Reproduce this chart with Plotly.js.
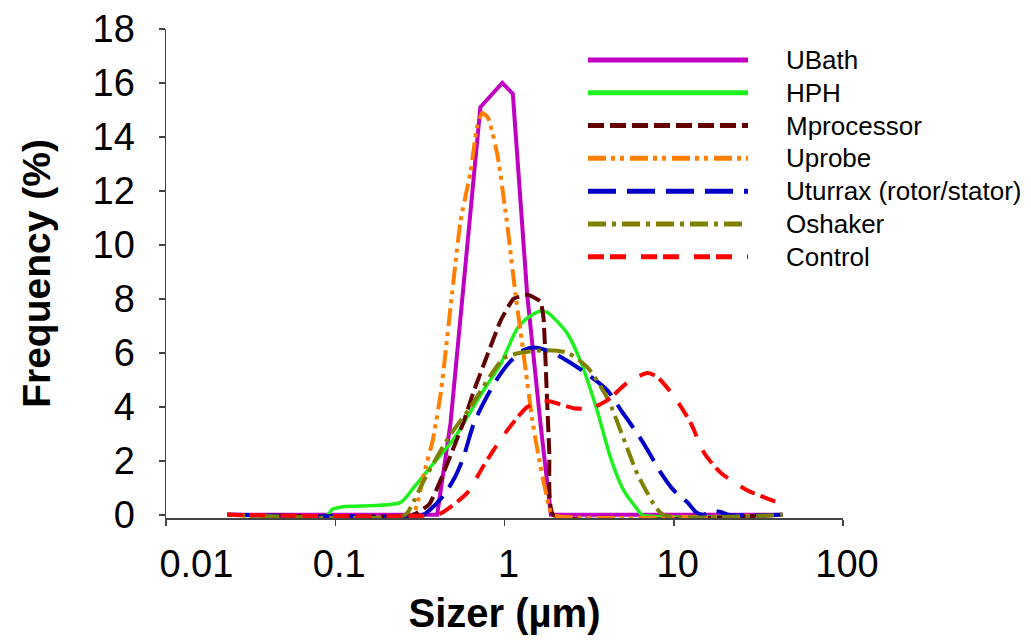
<!DOCTYPE html>
<html>
<head>
<meta charset="utf-8">
<script src="https://cdn.plot.ly/plotly-3.0.1.min.js"></script>
<style>
  html, body { margin: 0; padding: 0; background: #ffffff; }
  #chart { width: 1031px; height: 643px; }
</style>
</head>
<body>
<div id="chart"></div>
<script>
// ---------------- data ----------------
const seriesNames = ["UBath", "HPH", "Mprocessor", "Uprobe", "Uturrax (rotor/stator)", "Oshaker", "Control"];

const ubathSize = [0.023, 0.40, 0.48, 0.57, 0.72, 0.97, 1.12, 1.36, 1.63, 1.88, 44];
const ubathFreq = [0, 0, 3.4, 8.3, 15.1, 16.0, 15.6, 8.2, 3.4, 0, 0];

const hphSize = [0.023, 0.09, 0.096, 0.111, 0.242, 0.29, 0.38, 0.50, 0.60, 0.75, 0.95, 1.19, 1.37, 1.63, 1.79, 1.95, 2.36, 2.81, 3.55, 4.24, 5.06, 6.1, 6.5, 44];
const hphFreq = [0, 0, 0.2, 0.3, 0.45, 1.0, 1.9, 2.8, 3.6, 4.6, 5.6, 6.9, 7.3, 7.55, 7.5, 7.3, 6.7, 5.7, 3.8, 2.1, 0.9, 0.2, 0, 0];

const mprocSize = [0.023, 0.29, 0.36, 0.42, 0.48, 0.57, 0.66, 0.79, 0.95, 1.13, 1.37, 1.63, 1.70, 1.77, 1.84, 1.94, 44];
const mprocFreq = [0, 0, 0.4, 1.3, 2.2, 3.4, 4.6, 5.9, 7.2, 8.0, 8.15, 7.9, 7.3, 4.8, 2.3, 0, 0];

const uprobeSize = [0.023, 0.285, 0.305, 0.34, 0.375, 0.42, 0.49, 0.55, 0.63, 0.69, 0.74, 0.80, 0.91, 1.04, 1.16, 1.30, 1.46, 1.63, 1.82, 1.92, 44];
const uprobeFreq = [0, 0, 0.4, 1.7, 2.7, 4.5, 8.2, 10.9, 12.7, 14.4, 14.9, 14.7, 13.3, 10.7, 8.2, 5.9, 3.5, 1.8, 0.4, 0, 0];

const uturraxSize = [0.023, 0.33, 0.35, 0.435, 0.51, 0.57, 0.66, 0.79, 0.92, 1.09, 1.30, 1.48, 1.87, 2.36, 3.1, 4.07, 4.85, 6.1, 7.0, 8.4, 10.0, 12.1, 13.5, 15, 16.5, 19, 21, 44];
const uturraxFreq = [0, 0, 0.1, 0.7, 1.4, 2.1, 3.4, 4.4, 5.1, 5.7, 6.1, 6.2, 6.05, 5.7, 5.2, 4.6, 3.9, 3.0, 2.4, 1.55, 0.9, 0.45, 0.1, 0, 0.15, 0.1, 0, 0];

const oshakerSize = [0.023, 0.26, 0.28, 0.33, 0.46, 0.63, 0.99, 1.24, 1.80, 2.36, 3.1, 4.07, 5.0, 6.1, 7.0, 7.6, 8.7, 44];
const oshakerFreq = [0, 0, 0.3, 1.2, 2.8, 4.0, 5.8, 6.0, 6.1, 6.0, 5.45, 4.3, 2.9, 1.5, 0.8, 0.4, 0, 0];

const controlSize = [0.023, 0.40, 0.435, 0.60, 0.75, 0.95, 1.19, 1.37, 1.70, 1.87, 2.56, 3.23, 4.07, 5.34, 7.0, 8.0, 10.0, 12.6, 15.1, 19.0, 27.3, 37.5, 44.8];
const controlFreq = [0, 0, 0.1, 0.8, 1.8, 2.8, 3.6, 4.0, 4.2, 4.2, 3.95, 3.95, 4.25, 4.9, 5.25, 5.1, 4.4, 3.4, 2.3, 1.55, 0.9, 0.55, 0.35];

const xTickVals = [0.01, 0.1, 1, 10, 100];
const xTickText = ["0.01", "0.1", "1", "10", "100"];
const yTickVals = [0, 2, 4, 6, 8, 10, 12, 14, 16, 18];

// ---------------- styles ----------------
const styles = [
  {color: "#C000C0", width: 4,   dash: "solid",                    shape: "linear", smooth: 0},
  {color: "#1EF01E", width: 3.5, dash: "solid",                    shape: "spline", smooth: 0.7},
  {color: "#600000", width: 4,   dash: "16px,6px",                 shape: "spline", smooth: 0.4},
  {color: "#FF8000", width: 4,   dash: "18px,5px,4px,5px,4px,6px", shape: "spline", smooth: 0.5},
  {color: "#0000C8", width: 4,   dash: "28px,11px",                shape: "spline", smooth: 0.7},
  {color: "#808000", width: 4,   dash: "18px,6px,4px,6px",         shape: "spline", smooth: 0.7},
  {color: "#FF0000", width: 4,   dash: "16px,6px,16px,15px",       shape: "spline", smooth: 0.7}
];

const xs = [ubathSize, hphSize, mprocSize, uprobeSize, uturraxSize, oshakerSize, controlSize];
const ys = [ubathFreq, hphFreq, mprocFreq, uprobeFreq, uturraxFreq, oshakerFreq, controlFreq];

const traces = seriesNames.map((name, i) => {
  const line = {color: styles[i].color, width: styles[i].width, dash: styles[i].dash, shape: styles[i].shape};
  if (styles[i].shape === "spline") line.smoothing = styles[i].smooth;
  return {type: "scatter", mode: "lines", name: name, x: xs[i], y: ys[i], line: line, showlegend: false};
});

// ---------------- custom legend (long line samples like the original) ----------------
const plotL = 166, plotR = 843, plotT = 29, plotB = 518.2;
const W = 1031, H = 643;
const toPX = px => (px - plotL) / (plotR - plotL);
const toPY = py => (plotB - py) / (plotB - plotT);

const legendRow0 = 60, legendStep = 32.8;
const shapes = [];
const annotations = [];
seriesNames.forEach((name, i) => {
  const py = legendRow0 + i * legendStep;
  shapes.push({
    type: "line", xref: "paper", yref: "paper",
    x0: toPX(588), x1: toPX(748), y0: toPY(py), y1: toPY(py),
    line: {color: styles[i].color, width: 5, dash: styles[i].dash}
  });
  annotations.push({
    xref: "paper", yref: "paper", x: toPX(784), y: toPY(py),
    xanchor: "left", yanchor: "middle", showarrow: false,
    text: name, font: {family: "Liberation Sans, Arial, sans-serif", size: 26, color: "#000"}
  });
});

// first x label sits a little to the right in the original
const xTickTextShown = xTickText.map((t, i) => (i === 0 ? "&nbsp;&nbsp;&nbsp;&nbsp;&nbsp;" + t : t));

const layout = {
  width: W, height: H,
  paper_bgcolor: "#ffffff", plot_bgcolor: "#ffffff",
  margin: {l: plotL, r: W - plotR, t: plotT, b: H - plotB, pad: 0},
  font: {family: "Liberation Sans, Arial, sans-serif", color: "#000"},
  showlegend: false,
  xaxis: {
    type: "log",
    range: [-2, 2],
    tickvals: xTickVals, ticktext: xTickTextShown,
    ticks: "outside", ticklen: 6, tickwidth: 1.5, tickcolor: "#444",
    showline: true, linecolor: "#444", linewidth: 1.5,
    showgrid: false, zeroline: false,
    tickfont: {size: 38, color: "#000"},
    ticklabelstandoff: 6,
    ticklabelshift: 4,
    title: {text: "Sizer (µm)", font: {size: 40, weight: 700, color: "#000"}, standoff: 15},
    automargin: false
  },
  yaxis: {
    range: [-0.12, 18],
    tickvals: yTickVals,
    ticks: "outside", ticklen: 6, tickwidth: 1.5, tickcolor: "#444",
    showline: true, linecolor: "#444", linewidth: 1.5,
    showgrid: false, zeroline: false,
    tickfont: {size: 38, color: "#000"},
    ticklabelstandoff: 16,
    title: {text: "Frequency (%)", font: {size: 39, weight: 700, color: "#000"}, standoff: 30},
    automargin: false
  },
  shapes: shapes,
  annotations: annotations
};

Plotly.newPlot("chart", traces, layout, {displayModeBar: false, staticPlot: true});
</script>
</body>
</html>
